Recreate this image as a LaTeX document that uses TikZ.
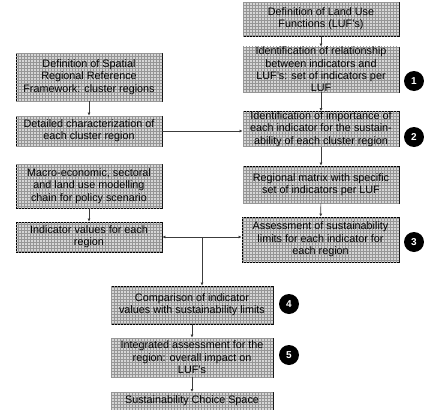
\documentclass[tikz,border=0pt]{standalone}
\usepackage{fontspec}
\setmainfont{Liberation Sans}
\usetikzlibrary{patterns,arrows.meta}
\definecolor{boxgray}{RGB}{214,214,214}
\definecolor{gridgray}{RGB}{150,150,150}
\definecolor{linegray}{RGB}{60,60,60}
\tikzset{
    stepbox/.style={draw=black,line width=0.8pt,fill=boxgray,
        postaction={pattern=grid,pattern color=gridgray},
        align=center,inner sep=0pt,font=\fontsize{10.8}{12.4}\selectfont},
    numdot/.style={circle,fill=black,minimum size=20pt,inner sep=0pt,
        text=white,font=\fontsize{10}{11}\selectfont\bfseries},
    flow/.style={linegray,line width=0.6pt,-{Latex[length=3pt,width=3pt]}}
}

\begin{document}
\begin{tikzpicture}[x=1pt,y=-1pt]

\useasboundingbox (0,0) rectangle (424,410);
\clip (0,0) rectangle (424,410);

% Right column: land use functions
\node[stepbox,minimum width=156pt,minimum height=34pt] (luf) at (321,19)
    {Definition of Land Use\\Functions (LUF's)};
\node[stepbox,minimum width=156pt,minimum height=43pt] (rel) at (321,69.5)
    {Identification of relationship\\between indicators and\\LUF's: set of indicators per\\LUF};
\node[stepbox,minimum width=156pt,minimum height=32pt] (imp) at (321,129)
    {Identification of importance of\\each indicator for the sustain-\\ability of each cluster region};
\node[stepbox,minimum width=156pt,minimum height=37pt] (mat) at (321,184.5)
    {Regional matrix with specific\\set of indicators per LUF};
\node[stepbox,minimum width=157pt,minimum height=45pt] (lim) at (320.5,239.5)
    {Assessment of sustainability\\limits for each indicator for\\each region};

% Left column: regions and scenario
\node[stepbox,minimum width=146pt,minimum height=48pt] (srf) at (89,77)
    {Definition of Spatial\\Regional Reference\\Framework: cluster regions};
\node[stepbox,minimum width=146pt,minimum height=30pt] (det) at (89,131)
    {Detailed characterization of\\each cluster region};
\node[stepbox,minimum width=146pt,minimum height=44pt] (mac) at (89,186)
    {Macro-economic, sectoral\\and land use modelling\\chain for policy scenario};
\node[stepbox,minimum width=146pt,minimum height=30pt] (ind) at (89,237)
    {Indicator values for each\\region};

% Bottom column: comparison and assessment
\node[stepbox,minimum width=162pt,minimum height=38pt] (cmp) at (192,305)
    {Comparison of indicator\\values with sustainability limits};
\node[stepbox,minimum width=162pt,minimum height=39pt] (int) at (192,357.5)
    {Integrated assessment for the\\region: overall impact on\\LUF's};
\node[stepbox,minimum width=162pt,minimum height=30pt,anchor=north] (scs) at (192,392)
    {Sustainability Choice Space\\\strut};

% Step numbers
\node[numdot] (n1) at (414,81) {1};
\node[numdot] (n2) at (414,137) {2};
\node[numdot] (n3) at (414,242) {3};
\node[numdot] (n4) at (289,304) {4};
\node[numdot] (n5) at (289,355) {5};

% Connectors
\draw[flow] (luf) -- (rel);
\draw[flow] (rel) -- (imp);
\draw[flow] (imp) -- (mat);
\draw[flow] (mat) -- (lim);
\draw[flow] (srf) -- (det);
\draw[flow] (det.east) -- (det.east -| imp.west);
\draw[flow] (mac) -- (ind);
\coordinate (split) at (202,237);
\draw[flow] (split) -- (ind.east |- split);
\draw[flow] (split) -- (lim.west |- split);
\draw[flow] (split) -- (split |- cmp.north);
\draw[flow] (cmp) -- (int);
\draw[flow] (int) -- (scs);

\end{tikzpicture}
\end{document}
